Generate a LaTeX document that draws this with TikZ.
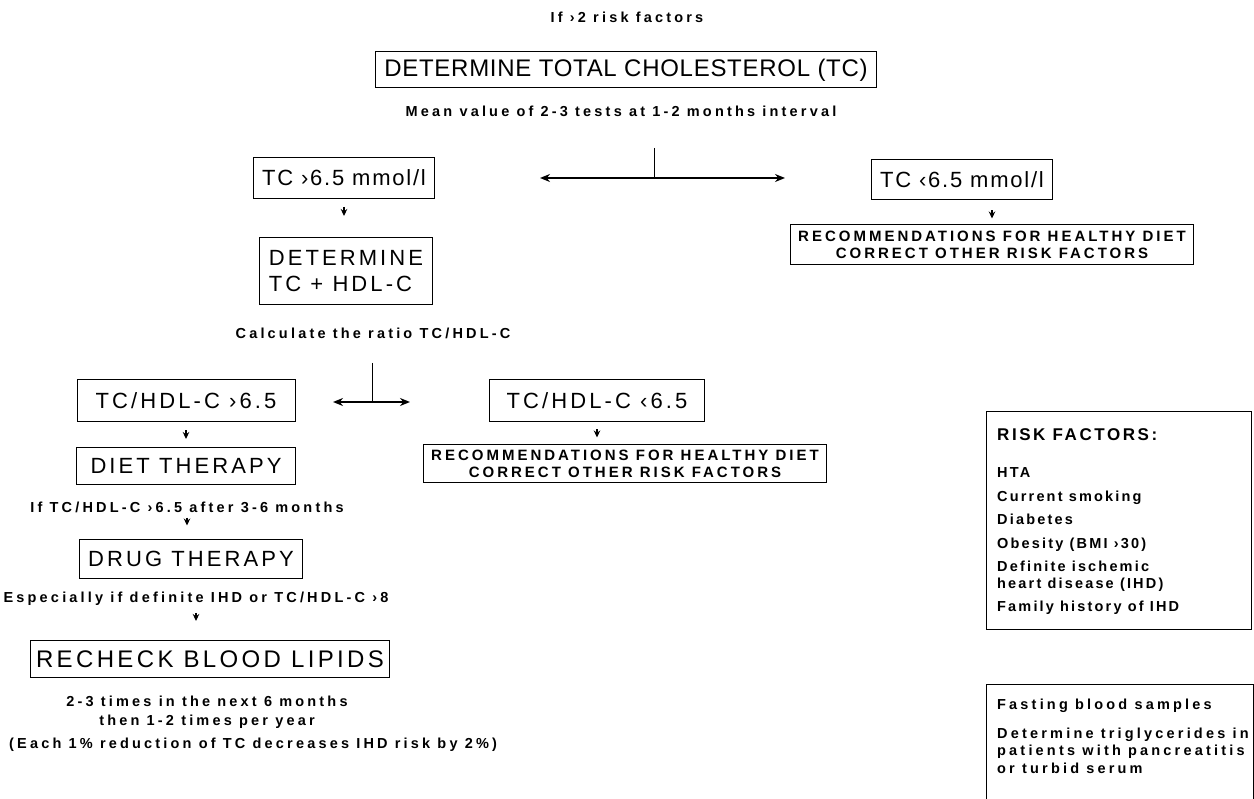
\documentclass[tikz,border=0pt]{standalone}
\usepackage{fontspec}
\setmainfont{Liberation Sans}
\newfontfamily\boxfont{Liberation Sans}[LetterSpace=14]
\newfontfamily\valuefont{Liberation Sans}[LetterSpace=8]
\newfontfamily\titlefont{Liberation Sans}[LetterSpace=3]
\newfontfamily\notefont{Liberation Sans Bold}[LetterSpace=22]
\newfontfamily\itemfont{Liberation Sans Bold}[LetterSpace=15]
\newfontfamily\advicefont{Liberation Sans Bold}[LetterSpace=20]
\usetikzlibrary{arrows.meta, positioning}

\begin{document}
\begin{tikzpicture}[x=1pt, y=-1pt,
    stepbox/.style={draw, line width=1pt, inner xsep=9pt, inner ysep=6pt, font=\boxfont\fontsize{22}{26}\selectfont},
    valuebox/.style={stepbox, font=\valuefont\fontsize{22}{26}\selectfont},
    bigbox/.style={stepbox, font=\boxfont\fontsize{24}{28}\selectfont},
    note/.style={font=\notefont\fontsize{14.5}{19}\selectfont, inner sep=1pt},
    advice/.style={draw, line width=1pt, align=center, inner xsep=8pt, inner ysep=4pt, font=\advicefont\fontsize{15}{17}\selectfont},
    infobox/.style={draw, line width=1pt, anchor=north west},
    item/.style={font=\itemfont\fontsize{14.5}{19}\selectfont, inner sep=1pt, anchor=base west},
    down/.style={-{Stealth[length=7pt, width=6.5pt]}, line width=1.4pt},
    fork/.style={{Stealth[length=10pt, width=8pt]}-{Stealth[length=10pt, width=8pt]}, line width=1.8pt},
    stem/.style={line width=0.8pt}
]
\useasboundingbox (0,0) rectangle (1254,799);
\clip (0,0) rectangle (1254,799);

% start
\node[note] (cond) at (627,17) {If ›2 risk factors};
\node[bigbox, minimum height=36, font=\titlefont\fontsize{24}{28}\selectfont] (tc) at (626,70) {DETERMINE TOTAL CHOLESTEROL (TC)};
\node[note] (mean) at (621,111) {Mean value of 2-3 tests at 1-2 months interval};

% first split
\coordinate (fork1top) at (654,148);
\coordinate (fork1) at (654,178);
\coordinate (fork1l) at (540,178);
\coordinate (fork1r) at (785,178);
\draw[stem] (fork1top) -- (fork1);
\draw[fork] (fork1l) -- (fork1r);

% high TC
\node[valuebox, minimum height=41] (hi) at (344,178) {TC ›6.5 mmol/l};
\node[stepbox, minimum height=67, align=left] (det) at (346,271) {DETERMINE\\TC + HDL-C};
\draw[down, shorten <=8pt, shorten >=21pt] (hi.south) -- (hi.south |- det.north);
\node[note] (calc) at (373,333) {Calculate the ratio TC/HDL-C};

% low TC
\node[valuebox, minimum height=40] (lo) at (962,180) {TC ‹6.5 mmol/l};
\node[advice, minimum height=40] (rec1) at (992,245) {RECOMMENDATIONS FOR HEALTHY DIET\\CORRECT OTHER RISK FACTORS};
\draw[down, shorten <=10pt, shorten >=6pt] (lo.south -| rec1.north) -- (rec1.north);

% second split
\coordinate (fork2top) at (372,363);
\coordinate (fork2) at (372,402);
\coordinate (fork2l) at (333,402);
\coordinate (fork2r) at (410,402);
\draw[stem] (fork2top) -- (fork2);
\draw[fork] (fork2l) -- (fork2r);

\node[stepbox, minimum height=42, minimum width=218] (rhi) at (186,401) {TC/HDL-C ›6.5};
\node[stepbox, minimum height=42, minimum width=215] (rlo) at (597,401) {TC/HDL-C ‹6.5};
\node[advice, minimum height=38] (rec2) at (625,464) {RECOMMENDATIONS FOR HEALTHY DIET\\CORRECT OTHER RISK FACTORS};
\draw[down, shorten <=7pt, shorten >=7pt] (rlo.south) -- (rlo.south |- rec2.north);

% treatment
\node[stepbox, minimum height=37, minimum width=219] (diet) at (186,466) {DIET THERAPY};
\draw[down, shorten <=8pt, shorten >=8pt] (rhi.south) -- (rhi.south |- diet.north);
\node[note] (ifdiet) at (187,507) {If TC/HDL-C ›6.5 after 3-6 months};
\node[stepbox, minimum height=38] (drug) at (191,559) {DRUG THERAPY};
\draw[down, shorten <=4pt, shorten >=14pt] (ifdiet.south) -- (ifdiet.south |- drug.north);
\node[note] (esp) at (196,599) {Especially if definite IHD or TC/HDL-C ›8};
\node[bigbox, minimum height=37, inner xsep=6pt] (recheck) at (210,659) {RECHECK BLOOD LIPIDS};
\draw[down, shorten <=6pt, shorten >=19pt] (esp.south) -- (esp.south |- recheck.north);
\node[note, align=center] (times) at (207,712) {2-3 times in the next 6 months\\then 1-2 times per year};
\node[note, anchor=west] (each) at (8,745) {(Each 1\% reduction of TC decreases IHD risk by 2\%)};

% risk factors
\node[infobox, minimum width=265, minimum height=218] (rf) at (986,411) {};
\node[item, font=\itemfont\fontsize{17}{19}\selectfont] (rf0) at (996,441) {RISK FACTORS:};
\node[item] (rf1) at (996,478) {HTA};
\node[item] (rf2) at (996,502) {Current smoking};
\node[item] (rf3) at (996,525) {Diabetes};
\node[item] (rf4) at (996,549) {Obesity (BMI ›30)};
\node[item] (rf5) at (996,572) {Definite ischemic};
\node[item] (rf6) at (996,588) {heart disease (IHD)};
\node[item] (rf7) at (996,611) {Family history of IHD};

% blood samples
\node[infobox, minimum width=267, minimum height=130] (fb) at (986,684) {};
\node[item, font=\notefont\fontsize{14.5}{19}\selectfont] (fb1) at (996,709) {Fasting blood samples};
\node[item, font=\notefont\fontsize{14.5}{19}\selectfont] (fb2) at (996,738) {Determine triglycerides in};
\node[item, font=\notefont\fontsize{14.5}{19}\selectfont] (fb3) at (996,755) {patients with pancreatitis};
\node[item, font=\notefont\fontsize{14.5}{19}\selectfont] (fb4) at (996,773) {or turbid serum};
\end{tikzpicture}
\end{document}
